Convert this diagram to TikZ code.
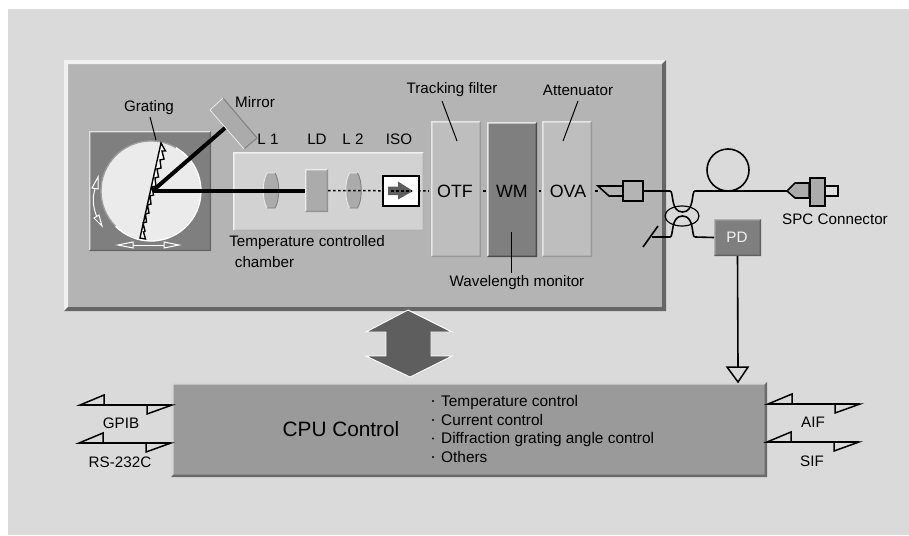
\documentclass[tikz,border=0pt]{standalone}
\usepackage{fontspec}
\setmainfont{Liberation Sans}
\usetikzlibrary{calc}
\definecolor{bgc}{HTML}{DADADA}
\definecolor{panelc}{HTML}{B4B4B4}
\definecolor{squarec}{HTML}{7F7F7F}
\definecolor{chamberc}{HTML}{D2D2D2}
\definecolor{filterc}{HTML}{BEBEBE}
\definecolor{cpuc}{HTML}{9A9A9A}
\definecolor{lensc}{HTML}{ABABAB}
\definecolor{arrowc}{HTML}{5E5E5E}
\tikzset{
  lbl/.style={font=\fontsize{15.2}{17}\selectfont,inner sep=0pt,text=black},
  big/.style={font=\fontsize{17.8}{19}\selectfont,inner sep=0pt,text=black},
  wire/.style={draw=black,line width=1.6pt,line join=miter},
  leader/.style={draw=black,line width=1pt},
  beam/.style={draw=black,line width=4pt},
  dotline/.style={draw=black,line width=1.5pt,dash pattern=on 2.5pt off 2.5pt},
  barb/.style={draw=black,line width=1.5pt,fill=bgc,line join=miter},
  smallarrow/.style={draw=white,line width=1pt,fill=squarec},
}
% name, x1, y1, x2, y2, fill, light, dark, bevel width
\newcommand{\bevelbox}[9]{%
  \node[fill=#6,minimum width={(#4-#2)*1pt},minimum height={(#5-#3)*1pt},inner sep=0pt,outer sep=0pt,rectangle] (#1) at ({(#2+#4)/2},{(#3+#5)/2}) {};
  \fill[#7] (#1.south west) -- (#1.north west) -- (#1.north east) -- ++(-#9,#9) -- ($(#1.north west)+(#9,#9)$) -- ($(#1.south west)+(#9,-#9)$) -- cycle;
  \fill[#8] (#1.south west) -- (#1.south east) -- (#1.north east) -- ++(-#9,#9) -- ($(#1.south east)+(-#9,-#9)$) -- ($(#1.south west)+(#9,-#9)$) -- cycle;
}
\newcommand{\halfarrows}[3]{% x1, x2, y
  \coordinate (ha-l) at (#1,#3);
  \coordinate (ha-r) at (#2,#3);
  \draw[barb] (ha-l) -- ++(24,-10) -- ++(0,10) -- cycle;
  \draw[barb] (ha-r) -- ++(-25,9) -- ++(0,-9) -- cycle;
  \draw[wire,line width=1.8pt] (ha-l) -- (ha-r);
}
\begin{document}
\begin{tikzpicture}[x=1pt,y=-1pt]
\useasboundingbox (0,0) rectangle (909,535);
\fill[bgc] (8,9) rectangle (909,535);

% main panel
\bevelbox{panel}{64}{60}{666}{311}{panelc}{black!6}{black!60}{4}

% grating square
\bevelbox{sq}{89}{131}{211}{251}{squarec}{black!12}{black!60}{1.4}
\coordinate (disc) at (151,191);
\fill[black!8] (disc) circle[radius=50];
\draw[black!38,line width=1.3pt] (disc) ++(135:50) arc[start angle=135,end angle=300,radius=50];
\draw[white,line width=1.3pt] (disc) ++(300:50) arc[start angle=300,end angle=495,radius=50];

% mirror
\fill[lensc,draw=black!50,line width=1pt] (223,98) -- (257,138) -- (244,149) -- (210,110) -- cycle;
\draw[black!8,line width=1pt] (244,149) -- (210,110) -- (223,98);

% temperature chamber
\bevelbox{chamber}{233}{152}{424}{231}{chamberc}{black!6}{black!30}{1.5}

% filters
\bevelbox{otf}{431}{121}{481}{257}{filterc}{black!10}{black!40}{1.5}
\bevelbox{wm}{487}{122}{537}{257}{squarec}{black!10}{black!70}{1.5}
\bevelbox{ova}{542}{121}{592}{257}{filterc}{black!10}{black!40}{1.5}

% lenses
\foreach \cx in {271,353.5}{
  \fill[lensc] (\cx-4,173) -- (\cx+4,173) .. controls (\cx+9,181) and (\cx+9,200) .. (\cx+4,208) -- (\cx-4,208) .. controls (\cx-9,200) and (\cx-9,181) .. (\cx-4,173) -- cycle;
  \draw[black!8,line width=0.9pt] (\cx+4,173) -- (\cx-4,173) .. controls (\cx-9,181) and (\cx-9,200) .. (\cx-4,208);
  \draw[black!50,line width=0.9pt] (\cx-4,208) -- (\cx+4,208) .. controls (\cx+9,200) and (\cx+9,181) .. (\cx+4,173);
}

% beams
\coordinate (gr) at (153,190.5);
\coordinate (mirrorspot) at (225,128);
\bevelbox{ld}{305}{169}{328}{212}{lensc}{black!8}{black!42}{1.3}
\draw[beam] (gr) -- (mirrorspot);
\draw[beam] (gr) -- (ld.west);

% grating
\draw[black,line width=1.4pt,fill=white,line join=miter]
 (140,238) -- (161,143) -- (165.5,151) -- (162,151) -- (164,159) -- (160,160) -- (161,168) -- (157,169) -- (158.5,177) -- (155,178) -- (156,186) -- (152,187)
 -- (153.5,195) -- (150,196) -- (151,204) -- (147.5,205) -- (149,213) -- (145.5,214) -- (146.5,222) -- (143,223) -- (145,231) -- (143.5,232) -- (145.5,239) -- cycle;

% motion arrows
\draw[white,line width=1pt] (95,189) .. controls (92,198) and (93,208) .. (97,217);
\draw[smallarrow] (98,177) -- (92,188) -- (98,189) -- cycle;
\draw[smallarrow] (102,226) -- (94,218) -- (99,215) -- cycle;
\draw[white,line width=1pt] (133,245) -- (164,245);
\draw[smallarrow] (118,245) -- (133,242) -- (133,248) -- cycle;
\draw[smallarrow] (179,245) -- (164,242) -- (164,248) -- cycle;

% optical dotted path
\coordinate (dotend) at (429,191);
\draw[dotline] (ld.east) -- (dotend);
\draw[wire,line width=1.4pt] (483,191) -- (485.5,191);
\draw[wire,line width=1.4pt] (538.5,191) -- (541,191);
\draw[wire,line width=1.4pt] (595,191) -- (598,191);

% isolator
\node[draw=black,line width=1.5pt,fill=white,minimum width=36pt,minimum height=30pt,inner sep=0pt] (iso) at (401,191) {};
\fill[arrowc] (388,186.5) -- (398,186.5) -- (398,181.5) -- (413,191) -- (398,199.5) -- (398,195) -- (388,195) -- cycle;
\draw[dotline] (391,191) -- (412,191);

% fibre connector at OVA
\node[draw=black,line width=1.6pt,fill=panelc,minimum width=20pt,minimum height=20pt,inner sep=0pt] (conn) at (633,191) {};
\draw[wire] ($(conn.west)+(0,-5)$) -- (598,186) -- (609,196) -- ($(conn.west)+(0,5)$);

% fibre coupler
\coordinate (c1) at (670,191);
\coordinate (c2) at (695,191);
\coordinate (c3) at (670,237);
\coordinate (c4) at (695,237);
\coordinate (c5) at (652,237);
\coordinate (s1) at (643,247);
\coordinate (s2) at (658,226);
\coordinate (sp) at (787,191);
\node[draw=black,line width=1.6pt,circle,minimum size=42pt,inner sep=0pt] (coil) at (728,170) {};
\draw[wire] (conn.east) -- (c1) .. controls (674,191) and (670,212) .. (682.5,212) .. controls (695,212) and (691,191) .. (c2) -- (sp);
\draw[wire] (c5) -- (c3) .. controls (674,237) and (670,216) .. (682.5,216) .. controls (695,216) and (691,237) .. (c4);
\draw[wire] (s1) -- (s2);
\draw[draw=black,line width=1.2pt] (682,216) ellipse[x radius=17,y radius=10];

% PD
\bevelbox{pd}{714}{219}{761}{256}{squarec}{black!30}{black!62}{1.3}
\node[font=\fontsize{15.2}{17}\selectfont,text=black!5,inner sep=0pt] (pdt) at (737,237) {PD};
\draw[wire] (c4) -- (pd.west);

% SPC connector
\node[draw=black,line width=1.5pt,fill=bgc!85!white,minimum width=13pt,minimum height=10pt,inner sep=0pt] (spc3) at (831.5,191) {};
\node[draw=black,line width=1.6pt,fill=lensc,minimum width=15pt,minimum height=28pt,inner sep=0pt] (spc2) at (817.5,192) {};
\draw[wire,fill=lensc] (sp) -- (795,183) -- (spc2.west |- 795,183) -- (spc2.west |- 795,198) -- (795,198) -- cycle;

% CPU
\bevelbox{cpu}{171}{382}{767}{477}{cpuc}{black!16}{black!58}{2.5}
\node[font=\fontsize{20.8}{24}\selectfont,inner sep=0pt,text=black] (cputxt) at (341,429) {CPU Control};
\foreach \nm/\yy/\tx in {ta/406/Temperature control,tb/425/Current control,tc/443.5/Diffraction grating angle control,td/462/Others}{
  \node[font=\fontsize{15.4}{17}\selectfont,inner sep=0pt,anchor=base west,text=black] (\nm) at (441,\yy) {\tx};
  \fill[black] (433,\yy-5) circle[radius=1.2];
}

% PD to CPU
\coordinate (pdtip) at (738,382);
\draw[barb] (727,367) -- (748,367) -- (pdtip) -- cycle;
\draw[wire] (pd.south) -- (738,367);

% double arrow
\fill[arrowc,draw=white,line width=0.9pt,line join=miter] (408,310) -- (452,332) -- (431,332) -- (431,356) -- (452,356) -- (410,377) -- (366,356) -- (386,356) -- (386,332) -- (366,332) -- cycle;

% half arrows
\halfarrows{80}{172}{405}
\halfarrows{79}{171}{443}
\halfarrows{768}{860}{404}
\halfarrows{767}{859}{442}

% leaders
\coordinate (gra) at (150,117); \coordinate (grb) at (156,140);
\draw[leader] (gra) -- (grb);
\coordinate (tfa) at (442,101); \coordinate (tfb) at (457,141);
\draw[leader] (tfa) -- (tfb);
\coordinate (ata) at (578,101); \coordinate (atb) at (563,141);
\draw[leader] (ata) -- (atb);
\coordinate (wma) at (511,232); \coordinate (wmb) at (511,273);
\draw[leader] (wma) -- (wmb);

% labels
\node[lbl] (t1) at (149,108) {Grating};
\node[lbl] (t2) at (255,102) {Mirror};
\node[lbl] (t3) at (268,139) {L 1};
\node[lbl] (t4) at (317,139) {LD};
\node[lbl] (t5) at (353,139) {L 2};
\node[lbl] (t6) at (399,139) {ISO};
\node[lbl] (t7) at (307,243) {Temperature controlled};
\node[lbl] (t8) at (264.5,262) {chamber};
\node[lbl] (t9) at (452,90) {Tracking filter};
\node[lbl] (t10) at (578,90) {Attenuator};
\node[lbl] (t11) at (517,283) {Wavelength monitor};
\node[big] (t12) at (455,191) {OTF};
\node[big] (t13) at (512,191) {WM};
\node[big] (t14) at (568,191) {OVA};
\node[lbl] (t15) at (835,219) {SPC Connector};
\node[lbl] (t16) at (121,423) {GPIB};
\node[lbl] (t17) at (120,462) {RS-232C};
\node[lbl] (t18) at (813,422) {AIF};
\node[lbl] (t19) at (812,461) {SIF};
\end{tikzpicture}
\end{document}
